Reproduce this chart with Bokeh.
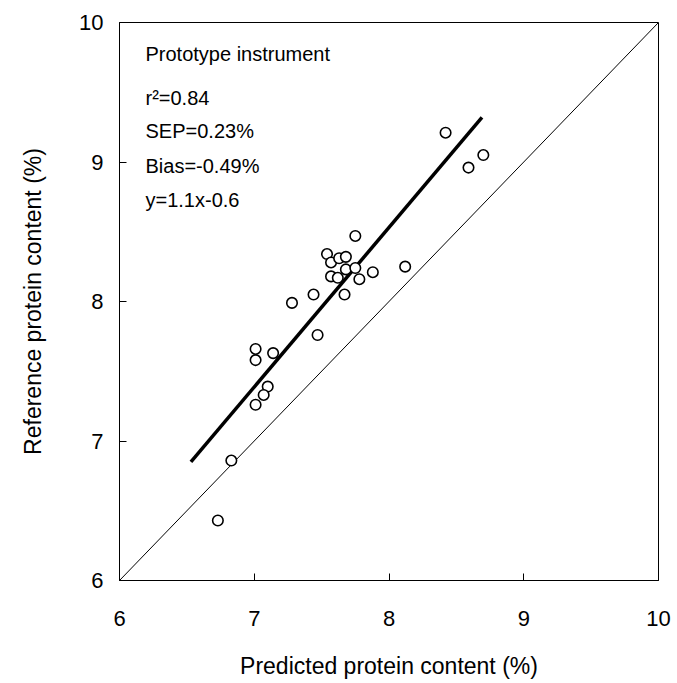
from bokeh.plotting import figure
from bokeh.models import Range1d, Label, FixedTicker
from bokeh.embed import file_html
from bokeh.resources import INLINE

# data
pred = [8.42, 8.59, 8.70, 7.75, 7.54, 7.57, 7.63, 7.68, 7.68, 7.57, 7.62, 7.75,
        7.78, 7.88, 8.12, 7.44, 7.67, 7.28, 7.47, 7.01, 7.14, 7.01, 7.10, 7.07,
        7.01, 6.83, 6.73]
ref = [9.21, 8.96, 9.05, 8.47, 8.34, 8.28, 8.31, 8.32, 8.23, 8.18, 8.17, 8.24,
       8.16, 8.21, 8.25, 8.05, 8.05, 7.99, 7.76, 7.66, 7.63, 7.58, 7.39, 7.33,
       7.26, 6.86, 6.43]
fit_x = [6.53, 8.69]
fit_y = [6.85, 9.32]
one_x = [6, 10]
one_y = [6, 10]
ticks = [6, 7, 8, 9, 10]
stats = ["Prototype instrument", "r\u00b2=0.84", "SEP=0.23%", "Bias=-0.49%", "y=1.1x-0.6"]

FONT = "Liberation Sans"

p = figure(frame_width=539, frame_height=558, width=677, height=683,
           min_border_left=119, min_border_right=19, min_border_top=22, min_border_bottom=103,
           x_range=Range1d(6, 10), y_range=Range1d(6, 10),
           output_backend="svg", toolbar_location=None)
p.grid.visible = False
p.outline_line_color = "black"
p.outline_line_width = 1
p.background_fill_color = "white"
p.border_fill_color = "white"

for ax in (p.xaxis[0], p.yaxis[0]):
    ax.ticker = FixedTicker(ticks=ticks)
    ax.minor_tick_line_color = None
    ax.major_tick_in = 7
    ax.major_tick_out = 0
    ax.axis_line_color = "black"
    ax.major_tick_line_color = "black"
    ax.major_label_text_font = FONT
    ax.major_label_text_font_size = "22px"
    ax.major_label_text_color = "black"
    ax.axis_label_text_font = FONT
    ax.axis_label_text_font_size = "23px"
    ax.axis_label_text_font_style = "normal"
    ax.axis_label_text_color = "black"

p.xaxis.axis_label = "Predicted protein content (%)"
p.yaxis.axis_label = "Reference protein content (%)"
p.xaxis.major_label_standoff = 30
p.yaxis.major_label_standoff = 16
p.xaxis.axis_label_standoff = 24
p.yaxis.axis_label_standoff = 30

p.line(one_x, one_y, line_color="black", line_width=1)
p.line(fit_x, fit_y, line_color="black", line_width=3.5)
p.scatter(pred, ref, marker="circle", size=10.5, fill_color="white",
          line_color="black", line_width=1.6)

ys = [527, 483, 450, 415, 381]
for t, yy in zip(stats, ys):
    p.add_layout(Label(x=26, y=yy, x_units="screen", y_units="screen", text=t,
                       text_font=FONT, text_font_size="20px", text_baseline="middle",
                       text_color="black"))

open("out.html", "w").write(file_html(p, INLINE))
